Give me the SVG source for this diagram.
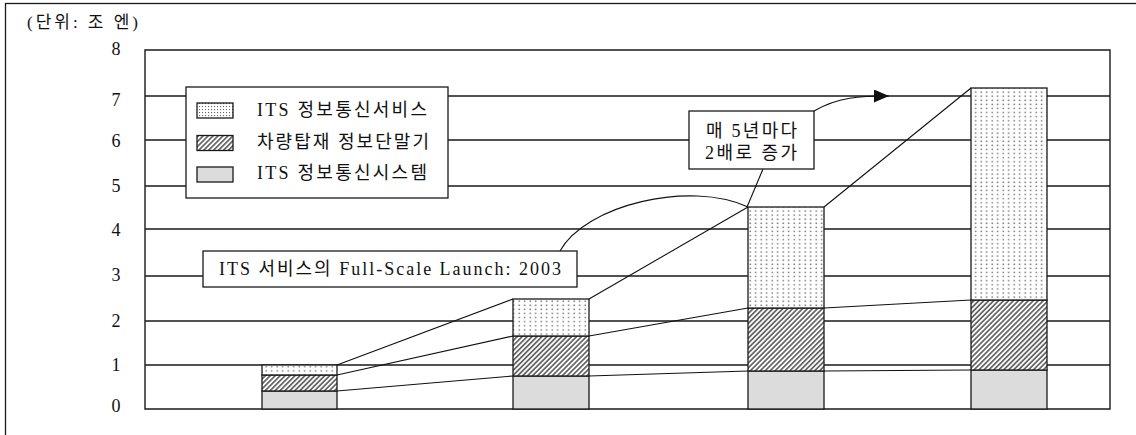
<svg xmlns="http://www.w3.org/2000/svg" width="1136" height="435" viewBox="0 0 1136 435">
<style>
.t{font-family:"Liberation Serif","Noto Sans CJK KR",serif;fill:#111;}
.ax{font-size:18px;text-anchor:middle;}
.lg{font-size:18px;}
.grid{stroke:#1a1a1a;stroke-width:1.4;fill:none;}
.seg{stroke:#1a1a1a;stroke-width:1.3;}
.con{stroke:#111;stroke-width:1.1;fill:none;}
.box{fill:#fff;stroke:#1a1a1a;stroke-width:1.3;}
.gray{fill:#dcdcdc;}
.dot{fill:url(#dots);}
.hat{fill:url(#hatch);}
</style>
<defs>
<pattern id="dots" patternUnits="userSpaceOnUse" width="5.5" height="4.1">
<rect width="5.5" height="4.1" fill="#fff"/>
<rect x="1.5" y="1.2" width="1.4" height="1.4" fill="#666"/>
</pattern>
<pattern id="dots2" patternUnits="userSpaceOnUse" width="3" height="3">
<rect width="3" height="3" fill="#fff"/>
<rect x="1" y="1" width="1.1" height="1.1" fill="#666"/>
</pattern>
<pattern id="hatch" patternUnits="userSpaceOnUse" width="3.5" height="10" patternTransform="rotate(45)">
<rect width="3.5" height="10" fill="#fff"/>
<line x1="1.75" y1="0" x2="1.75" y2="10" stroke="#333" stroke-width="1.3"/>
</pattern>
<marker id="arr" markerUnits="userSpaceOnUse" markerWidth="16" markerHeight="14" refX="15" refY="6.5" orient="auto">
<path d="M0,0 L15,6.5 L0,13 z" fill="#111"/>
</marker>
</defs>
<rect x="5.5" y="3.5" width="1140" height="440" fill="#fff" stroke="#1a1a1a" stroke-width="1.3"/>
<text class="t" x="27" y="28" font-size="17" textLength="111" lengthAdjust="spacing">(단위: 조 엔)</text>
<g id="axis">
<path class="grid" d="M145,50 H1110 V409 H145 Z M145,96 H1110 M145,140 H1110 M145,186 H1110 M145,229 H1110 M145,276 H1110 M145,321 H1110 M145,365 H1110"/>
<text class="t ax" x="116" y="55">8</text>
<text class="t ax" x="116" y="106">7</text>
<text class="t ax" x="116" y="147">6</text>
<text class="t ax" x="116" y="192">5</text>
<text class="t ax" x="116" y="236">4</text>
<text class="t ax" x="116" y="281">3</text>
<text class="t ax" x="116" y="327">2</text>
<text class="t ax" x="116" y="371">1</text>
<text class="t ax" x="116" y="412">0</text>
</g>
<g id="connectors">
<path class="con" d="M337,365 L513,299 M337,375 L513,336 M337,391 L513,376"/>
<path class="con" d="M589,299 L748,207 M589,336 L748,308 M589,376 L748,371"/>
<path class="con" d="M824,207 L971,88 M824,308 L971,300 M824,371 L971,370"/>
<path class="con" d="M560,251 C585,205 690,180 748,207"/>
<path class="con" d="M763,169 L747,207"/>
<path class="con" d="M814,111 C838,97 860,96 889,96" marker-end="url(#arr)"/>
</g>
<g id="bar2000">
<rect class="seg gray" x="262" y="391" width="75" height="18"/>
<rect class="seg hat" x="262" y="375" width="75" height="16"/>
<rect class="seg dot" x="262" y="365" width="75" height="10"/>
</g>
<g id="bar2005">
<rect class="seg gray" x="513" y="376" width="76" height="33"/>
<rect class="seg hat" x="513" y="336" width="76" height="40"/>
<rect class="seg dot" x="513" y="299" width="76" height="37"/>
</g>
<g id="bar2010">
<rect class="seg gray" x="748" y="371" width="76" height="38"/>
<rect class="seg hat" x="748" y="308" width="76" height="63"/>
<rect class="seg dot" x="748" y="207" width="76" height="101"/>
</g>
<g id="bar2015">
<rect class="seg gray" x="971" y="370" width="76" height="39"/>
<rect class="seg hat" x="971" y="300" width="76" height="70"/>
<rect class="seg dot" x="971" y="88" width="76" height="212"/>
</g>
<g id="legend">
<rect class="box" x="186" y="87" width="262" height="111"/>
<rect class="seg" x="197" y="103" width="36" height="15" fill="url(#dots2)"/>
<rect class="seg hat" x="197" y="135.5" width="36" height="15"/>
<rect class="seg gray" x="197" y="167" width="36" height="15"/>
<text class="t lg" x="257" y="116" textLength="170" lengthAdjust="spacing">ITS 정보통신서비스</text>
<text class="t lg" x="257" y="148" textLength="172" lengthAdjust="spacing">차량탑재 정보단말기</text>
<text class="t lg" x="257" y="179" textLength="170" lengthAdjust="spacing">ITS 정보통신시스템</text>
</g>
<g id="launch">
<rect class="box" x="203" y="251" width="374" height="36"/>
<text class="t lg" x="219" y="275" textLength="342" lengthAdjust="spacing">ITS 서비스의 Full-Scale Launch: 2003</text>
</g>
<g id="double">
<rect class="box" x="689" y="111" width="125" height="58"/>
<text class="t lg" x="706" y="137" textLength="91" lengthAdjust="spacing">매 5년마다</text>
<text class="t lg" x="705" y="159" textLength="92" lengthAdjust="spacing">2배로 증가</text>
</g>
</svg>
